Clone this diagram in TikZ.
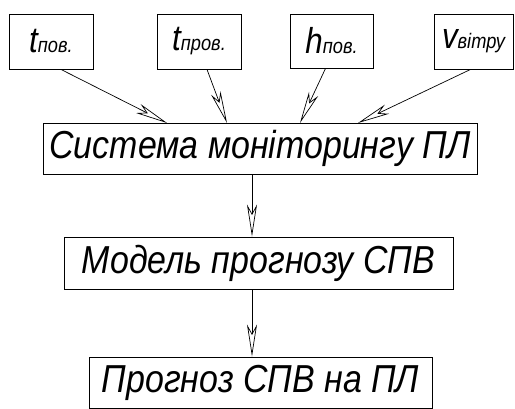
\documentclass[tikz,border=0pt]{standalone}
\usepackage{fontspec}
\setmainfont{Liberation Sans}
\newfontfamily\dfont[FakeStretch=0.87]{Liberation Sans}
\usetikzlibrary{arrows.meta}
\tikzset{
  box/.style={draw, line width=0.9pt, inner sep=0pt, minimum height=0pt, font=\dfont\itshape},
  arr/.style={line width=0.7pt, -{Stealth[open, length=32pt, width=10pt, inset=9pt, line width=0.7pt]}},
}
\newcommand{\mainlett}{\fontsize{36}{36}\selectfont}
\newcommand{\sublett}{\fontsize{21}{21}\selectfont}
\begin{document}
\begin{tikzpicture}[x=1pt,y=-1pt]
\useasboundingbox (0,0) rectangle (515,408);
% top boxes
\node[box, minimum width=84pt, minimum height=55pt] (t1) at (51,41.5) {\mainlett t\sublett пов.};
\node[box, minimum width=84pt, minimum height=55pt] (t2) at (199,41.5) {\mainlett t\sublett пров.};
\node[box, minimum width=83pt, minimum height=54pt] (t3) at (331.5,41) {\mainlett h\sublett пов.};
\node[box, minimum width=79pt, minimum height=55pt] (t4) at (473.5,41.5) {\mainlett v\sublett вітру};
% main boxes
\node[box, minimum width=434pt, minimum height=51pt] (b1) at (260,148.5) {\fontsize{39}{39}\selectfont Система моніторингу ПЛ};
\node[box, minimum width=389pt, minimum height=52pt] (b2) at (258.5,263) {\fontsize{39}{39}\selectfont Модель прогнозу СПВ};
\node[box, minimum width=343pt, minimum height=51pt] (b3) at (260.5,382.5) {\fontsize{39}{39}\selectfont Прогноз СПВ на ПЛ};
% arrows
\coordinate (e1) at (167,123);
\coordinate (e2) at (227,123);
\coordinate (e3) at (300,123);
\coordinate (e4) at (358,123);
\draw[arr] (t1.south) ++(10,0) -- (e1);
\draw[arr] (t2.south) ++(8,0) -- (e2);
\draw[arr] (t3.south) ++(-6,0) -- (e3);
\draw[arr] (t4.south) ++(-3,0) -- (e4);
\draw[arr] (b1.south -| 252,0) -- (b2.north -| 252,0);
\draw[arr] (b2.south -| 252,0) -- (b3.north -| 252,0);
\end{tikzpicture}
\end{document}
